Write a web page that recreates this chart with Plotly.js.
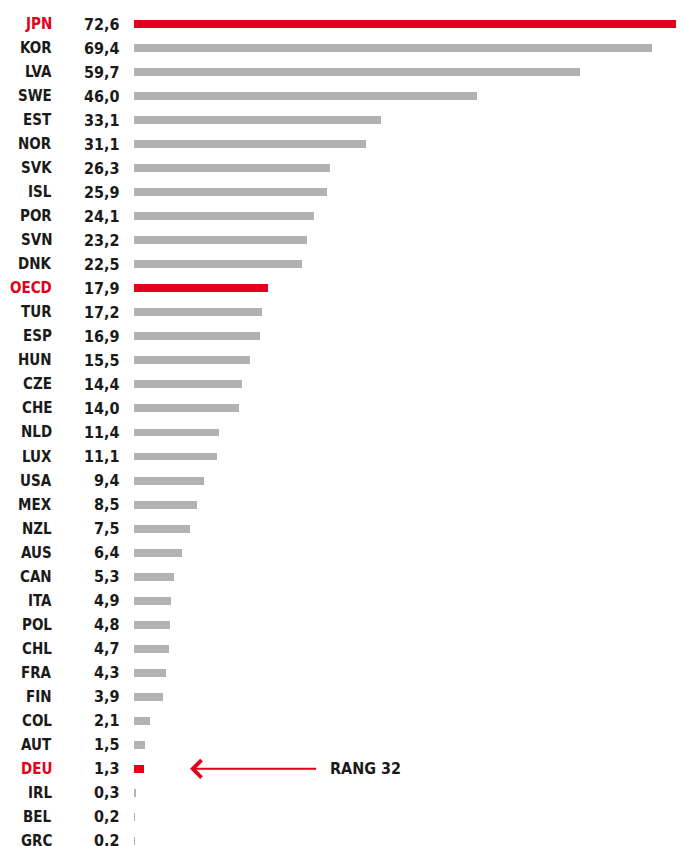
<!DOCTYPE html>
<html><head><meta charset="utf-8">
<script src="https://cdn.plot.ly/plotly-3.0.1.min.js"></script>
<style>html,body{margin:0;padding:0;background:#fff}#chart{width:683px;height:846px}</style>
</head><body><div id="chart"></div>
<script>
const countries = ["JPN","KOR","LVA","SWE","EST","NOR","SVK","ISL","POR","SVN","DNK","OECD","TUR","ESP","HUN","CZE","CHE","NLD","LUX","USA","MEX","NZL","AUS","CAN","ITA","POL","CHL","FRA","FIN","COL","AUT","DEU","IRL","BEL","GRC"];
const values = [72.6,69.4,59.7,46.0,33.1,31.1,26.3,25.9,24.1,23.2,22.5,17.9,17.2,16.9,15.5,14.4,14.0,11.4,11.1,9.4,8.5,7.5,6.4,5.3,4.9,4.8,4.7,4.3,3.9,2.1,1.5,1.3,0.3,0.2,0.2];
const valueLabels = ["72,6","69,4","59,7","46,0","33,1","31,1","26,3","25,9","24,1","23,2","22,5","17,9","17,2","16,9","15,5","14,4","14,0","11,4","11,1","9,4","8,5","7,5","6,4","5,3","4,9","4,8","4,7","4,3","3,9","2,1","1,5","1,3","0,3","0,2","0.2"];
const highlighted = ["JPN","OECD","DEU"];
const calloutCountry = "DEU";
const calloutText = "RANG 32";

const RED = "#e2001a", GRAY = "#b2b2b2", INK = "#1a1a1a";
const FONT = "DejaVu Sans Condensed, DejaVu Sans, sans-serif";
const colors = countries.map(c => highlighted.includes(c) ? RED : GRAY);

const trace = {
  type: "bar", orientation: "h",
  x: values, y: countries,
  marker: {color: colors},
  width: 0.33,
  hoverinfo: "skip"
};

const annotations = [];
countries.forEach((c, i) => {
  const hl = highlighted.includes(c);
  annotations.push({
    x: 0, xref: "paper", y: c, yref: "y",
    text: "<b>" + c + "</b>", showarrow: false,
    xanchor: "right", xshift: -80,
    font: {family: FONT, size: 15, color: hl ? RED : INK}
  });
  annotations.push({
    x: 0, xref: "paper", y: c, yref: "y",
    text: "<b>" + valueLabels[i] + "</b>", showarrow: false,
    xanchor: "right", xshift: -12,
    font: {family: FONT, size: 16, color: INK}
  });
});
// callout arrow
annotations.push({
  x: 7.5, xref: "x", y: calloutCountry, yref: "y",
  ax: 24.6, axref: "x", ay: 0, ayref: "pixel",
  text: "", showarrow: true,
  arrowhead: 4, arrowsize: 1.7, arrowwidth: 2, arrowcolor: RED
});
annotations.push({
  x: 26.0, xref: "x", y: calloutCountry, yref: "y",
  text: "<b>" + calloutText + "</b>", showarrow: false,
  xanchor: "left",
  font: {family: FONT, size: 16, color: INK}
});

const layout = {
  width: 683, height: 846,
  margin: {l: 134, r: 7, t: 0, b: 0},
  paper_bgcolor: "#fff", plot_bgcolor: "#fff",
  showlegend: false,
  bargap: 0,
  xaxis: {range: [0, 72.6], visible: false, fixedrange: true},
  yaxis: {type: "category", range: [34.21, -0.999], visible: false, fixedrange: true},
  annotations: annotations
};
Plotly.newPlot("chart", [trace], layout, {displayModeBar: false, staticPlot: true});
</script></body></html>
